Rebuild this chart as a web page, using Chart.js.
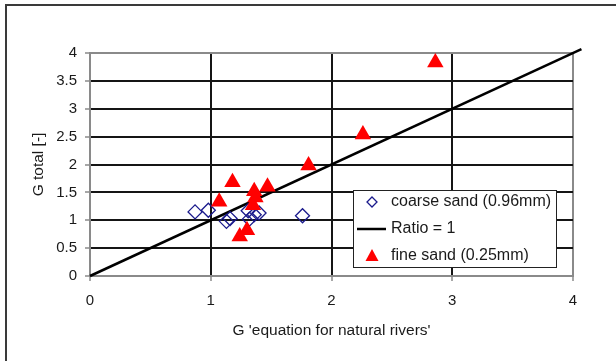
<!DOCTYPE html>
<html>
<head>
<meta charset="utf-8">
<script src="https://cdn.jsdelivr.net/npm/chart.js@4.4.1/dist/chart.umd.min.js"></script>
<style>
  html, body { margin: 0; padding: 0; background: #fff; }
  #wrap { position: relative; width: 616px; height: 361px; }
</style>
</head>
<body>
<div id="wrap"><canvas id="chart" width="616" height="361"></canvas></div>
<script>
// coarse sand (0.96mm) measurements
const coarseX = [0.87, 0.98, 1.13, 1.16, 1.31, 1.32, 1.36, 1.40, 1.76];
const coarseY = [1.15, 1.18, 0.98, 1.03, 1.17, 1.02, 1.10, 1.13, 1.08];

// fine sand (0.25mm) measurements
const fineX = [2.86, 2.26, 1.81, 1.18, 1.47, 1.36, 1.37, 1.07, 1.35, 1.30, 1.24];
const fineY = [3.83, 2.54, 1.98, 1.68, 1.60, 1.52, 1.41, 1.33, 1.27, 0.82, 0.71];

// reference line G total = G equation
const ratioX = [0, 4.07];
const ratioY = [0, 4.07];

const xTicks = [0, 1, 2, 3, 4];
const yTicks = [0, 0.5, 1, 1.5, 2, 2.5, 3, 3.5, 4];

const labels = ["coarse sand (0.96mm)", "Ratio = 1", "fine sand (0.25mm)"];

const toPoints = (xs, ys) => xs.map((x, i) => ({ x: x, y: ys[i] }));

const FONT = "'Liberation Sans', Arial, sans-serif";
const TEXT = "#1a1a1a";
const GRID = "#151515";
const EDGE = "#8a8a8a";

// outer frame of the chart object (only left and top edges fall inside the canvas)
const framePlugin = {
  id: "frame",
  beforeDraw(chart) {
    const ctx = chart.ctx;
    ctx.save();
    ctx.fillStyle = "#fff";
    ctx.fillRect(0, 0, chart.width, chart.height);
    ctx.strokeStyle = "#3a3a3a";
    ctx.lineWidth = 2;
    ctx.beginPath();
    ctx.moveTo(6, chart.height);
    ctx.lineTo(6, 5);
    ctx.lineTo(chart.width, 5);
    ctx.stroke();
    ctx.restore();
  },
};

// boxed legend sitting inside the plot area
const boxLegend = {
  id: "boxLegend",
  afterDraw(chart) {
    const ctx = chart.ctx;
    const ds = chart.data.datasets;
    const box = { left: 353, top: 190, right: 556, bottom: 267 };
    ctx.save();
    ctx.fillStyle = "#fff";
    ctx.fillRect(box.left, box.top, box.right - box.left, box.bottom - box.top);
    ctx.strokeStyle = "#222";
    ctx.lineWidth = 1;
    ctx.strokeRect(box.left + 0.5, box.top + 0.5, box.right - box.left, box.bottom - box.top);

    ctx.font = "16px " + FONT;
    ctx.fillStyle = TEXT;
    ctx.textBaseline = "middle";
    const textX = 391;
    const rows = [202, 229, 256];

    // diamond
    ctx.strokeStyle = ds[0].borderColor;
    ctx.lineWidth = 1.3;
    ctx.beginPath();
    ctx.moveTo(372, rows[0] - 5);
    ctx.lineTo(377, rows[0]);
    ctx.lineTo(372, rows[0] + 5);
    ctx.lineTo(367, rows[0]);
    ctx.closePath();
    ctx.stroke();
    ctx.fillText(labels[0], textX, rows[0]);

    // line
    ctx.strokeStyle = ds[1].borderColor;
    ctx.lineWidth = 2.5;
    ctx.beginPath();
    ctx.moveTo(357, rows[1]);
    ctx.lineTo(386, rows[1]);
    ctx.stroke();
    ctx.fillText(labels[1], textX, rows[1]);

    // triangle
    ctx.fillStyle = ds[2].backgroundColor;
    ctx.beginPath();
    ctx.moveTo(372, rows[2] - 7);
    ctx.lineTo(378.5, rows[2] + 5);
    ctx.lineTo(365.5, rows[2] + 5);
    ctx.closePath();
    ctx.fill();
    ctx.fillStyle = TEXT;
    ctx.fillText(labels[2], textX, rows[2]);
    ctx.restore();
  },
};

const ctx = document.getElementById("chart").getContext("2d");

new Chart(ctx, {
  type: "scatter",
  data: {
    datasets: [
      {
        label: labels[0],
        data: toPoints(coarseX, coarseY),
        pointStyle: "rectRot",
        pointRadius: 7,
        pointBorderWidth: 1.3,
        borderColor: "#1a1a8c",
        backgroundColor: "rgba(0,0,0,0)",
        order: 2,
      },
      {
        label: labels[1],
        type: "line",
        data: toPoints(ratioX, ratioY),
        borderColor: "#000",
        borderWidth: 2.5,
        pointRadius: 0,
        fill: false,
        clip: false,
        order: 3,
      },
      {
        label: labels[2],
        data: toPoints(fineX, fineY),
        pointStyle: "triangle",
        pointRadius: 9.5,
        pointBorderWidth: 0,
        borderColor: "#ff0000",
        backgroundColor: "#ff0000",
        order: 1,
      },
    ],
  },
  options: {
    responsive: false,
    animation: false,
    events: [],
    layout: { padding: { left: 0, top: 53, right: 43, bottom: 0 } },
    plugins: {
      legend: { display: false },
      tooltip: { enabled: false },
    },
    scales: {
      x: {
        type: "linear",
        min: 0,
        max: 4,
        afterBuildTicks: (scale) => { scale.ticks = xTicks.map((v) => ({ value: v })); },
        afterFit: (scale) => { scale.height = 85; },
        ticks: {
          color: TEXT,
          font: { family: FONT, size: 15 },
          padding: 11,
          callback: (v) => String(v),
        },
        grid: {
          color: (c) => (c.tick && c.tick.value === 4 ? EDGE : GRID),
          lineWidth: 2,
          tickLength: 5,
          tickColor: EDGE,
          tickWidth: 1.5,
        },
        border: { color: EDGE, width: 2 },
        title: {
          display: true,
          text: "G 'equation for natural rivers'",
          color: TEXT,
          font: { family: FONT, size: 15.5 },
          padding: { top: 0, bottom: 21 },
        },
      },
      y: {
        type: "linear",
        min: 0,
        max: 4,
        afterBuildTicks: (scale) => { scale.ticks = yTicks.map((v) => ({ value: v })); },
        afterFit: (scale) => { scale.width = 90; },
        ticks: {
          color: TEXT,
          font: { family: FONT, size: 15 },
          padding: 8,
          callback: (v) => String(v),
        },
        grid: {
          color: (c) => (c.tick && c.tick.value === 4 ? EDGE : GRID),
          lineWidth: 2,
          tickLength: 5,
          tickColor: EDGE,
          tickWidth: 1.5,
        },
        border: { color: EDGE, width: 2 },
        title: {
          display: true,
          text: "G total [-]",
          color: TEXT,
          font: { family: FONT, size: 15.5 },
          padding: { top: 29, bottom: 0 },
        },
      },
    },
  },
  plugins: [framePlugin, boxLegend],
});
</script>
</body>
</html>
